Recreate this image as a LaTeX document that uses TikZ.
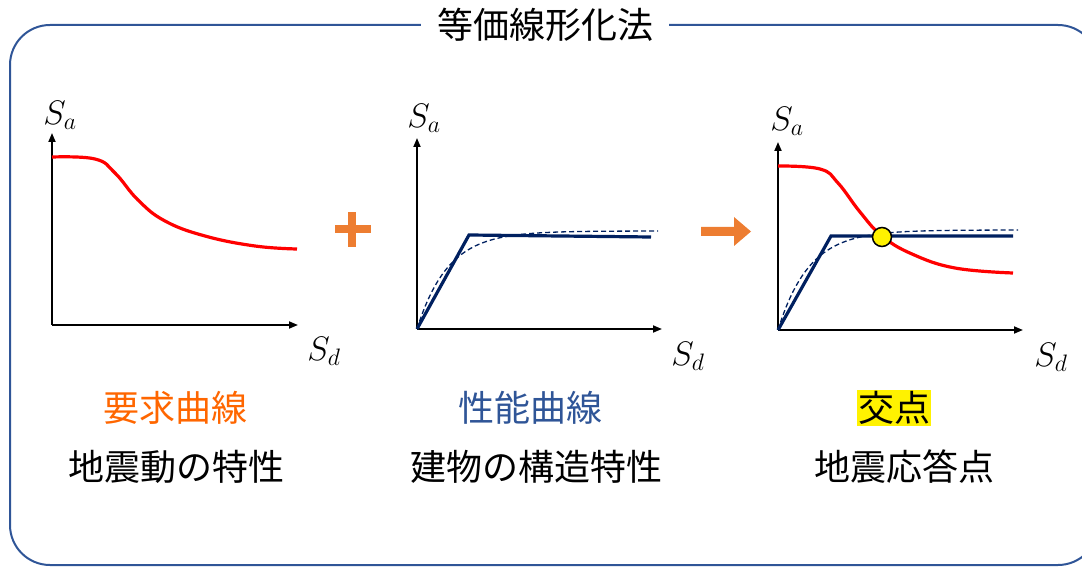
\RequirePackage{fix-cm}
\documentclass[tikz,border=0pt]{standalone}
\usepackage{fontspec}
\usepackage{amsmath}
\usetikzlibrary{positioning,arrows.meta}
\newfontfamily\jpfont{Noto Sans CJK JP}
\definecolor{frameblue}{RGB}{47,85,151}
\definecolor{curvenavy}{RGB}{0,32,96}
\definecolor{signorange}{RGB}{237,125,49}
\definecolor{textorange}{RGB}{255,102,0}

\begin{document}
\begin{tikzpicture}[x=1pt,y=-1pt,>={Triangle[length=9pt,width=7pt]},
  axis/.style={->,line width=1.8pt,black},
  demand/.style={line width=3.2pt,red},
  capacity/.style={line width=3.2pt,curvenavy},
  capcurve/.style={line width=1.3pt,curvenavy,dash pattern=on 5pt off 3pt},
  axlabel/.style={font=\fontsize{34}{38}\selectfont},
  lbl/.style={font=\jpfont\fontsize{36}{40}\selectfont,inner sep=1pt}]
\clip (0,0) rectangle (1082,569);
\draw[frameblue,line width=2pt,rounded corners=40pt] (10,25) rectangle (1098,565);
\node[lbl,fill=white,inner xsep=16pt] (title) at (545,25) {等価線形化法};

% demand curve
\coordinate (O1) at (52,325);
\coordinate (Y1) at (52,133);
\coordinate (X1) at (298,325);
\draw[axis] (O1) -- (Y1);
\draw[axis] (O1) -- (X1);
\node[axlabel] (sa1) at (60,115) {$S_a$};
\node[axlabel] (sd1) at (324,351) {$S_d$};
\draw[demand] plot[smooth,tension=0.7] coordinates {(52,157) (95,159) (115,173) (138,200) (165,221) (205,236) (255,246) (297,249)};

\fill[signorange] (335,225) rectangle (371,233);
\fill[signorange] (348,212) rectangle (356,247);

% capacity curve
\coordinate (O2) at (417,329);
\coordinate (Y2) at (417,138);
\coordinate (X2) at (662,329);
\draw[axis] (O2) -- (Y2);
\draw[axis] (O2) -- (X2);
\node[axlabel] (sa2) at (424,118) {$S_a$};
\node[axlabel] (sd2) at (688,356) {$S_d$};
\draw[capcurve] plot[domain=0:241,samples=80] ({417+\x},{329-98*(1-exp(-\x/31))});
\draw[capacity,line join=miter] (O2) -- (469,235) -- (651,237);

\fill[signorange] (701,227) -- (734,227) -- (734,217) -- (751,231.5) -- (734,246) -- (734,236) -- (701,236) -- cycle;

% both curves
\coordinate (O3) at (778,330);
\coordinate (Y3) at (778,142);
\coordinate (X3) at (1023,330);
\draw[axis] (O3) -- (Y3);
\draw[axis] (O3) -- (X3);
\node[axlabel] (sa3) at (787,121) {$S_a$};
\node[axlabel] (sd3) at (1051,357) {$S_d$};
\draw[demand] plot[smooth,tension=0.7] coordinates {(778,166) (820,169) (838,183) (860,212) (882,236) (912,254) (955,268) (1013,273)};
\draw[capcurve] plot[domain=0:240,samples=80] ({778+\x},{330-100*(1-exp(-\x/31))});
\draw[capacity,line join=miter] (O3) -- (831,236) -- (1013,236);
\node[circle,fill=yellow,draw=black,line width=1.5pt,minimum size=19pt,inner sep=0pt] (cross) at (882,237) {};

\node[lbl,text=textorange] (demandlbl) at (175,408) {要求曲線};
\node[lbl] (demanddesc) at (176,467) {地震動の特性};
\node[lbl,text=frameblue] (caplbl) at (530,408) {性能曲線};
\node[lbl] (capdesc) at (536,467) {建物の構造特性};
\node[lbl,fill=yellow] (crosslbl) at (894,408) {交点};
\node[lbl] (crossdesc) at (904,467) {地震応答点};
\end{tikzpicture}
\end{document}
